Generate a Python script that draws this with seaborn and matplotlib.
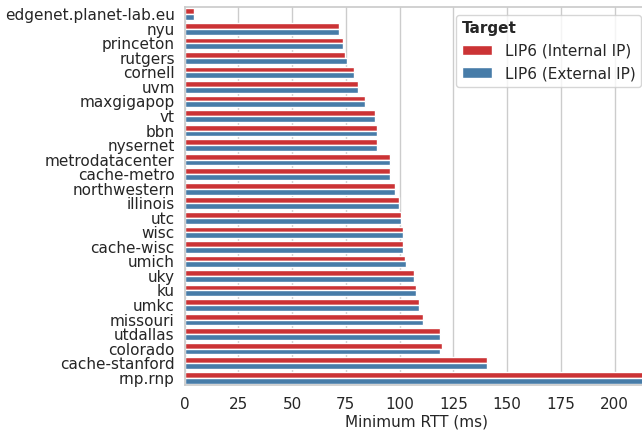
import matplotlib
matplotlib.use("Agg")
import matplotlib.pyplot as plt
import seaborn as sns
import pandas as pd

sites = ["edgenet.planet-lab.eu", "nyu", "princeton", "rutgers", "cornell", "uvm",
         "maxgigapop", "vt", "bbn", "nysernet", "metrodatacenter", "cache-metro",
         "northwestern", "illinois", "utc", "wisc", "cache-wisc", "umich", "uky",
         "ku", "umkc", "missouri", "utdallas", "colorado", "cache-stanford", "rnp.rnp"]
internal_rtt = [4.5, 71.6, 73.7, 74.6, 78.6, 80.7, 83.8, 88.7, 89.7, 89.7, 95.7, 95.7,
                97.8, 99.8, 100.7, 101.8, 101.8, 102.7, 106.8, 107.7, 108.9, 110.8,
                118.7, 119.8, 140.8, 218.0]
external_rtt = [4.5, 71.6, 73.7, 75.7, 78.6, 80.7, 83.8, 88.6, 89.7, 89.7, 95.7, 95.7,
                97.8, 99.8, 100.7, 101.8, 101.8, 102.9, 106.8, 107.7, 108.8, 110.7,
                118.7, 118.7, 140.8, 218.0]
targets = ["LIP6 (Internal IP)", "LIP6 (External IP)"]

df = pd.DataFrame({
    "Site": sites * 2,
    "Minimum RTT (ms)": internal_rtt + external_rtt,
    "Target": [targets[0]] * len(sites) + [targets[1]] * len(sites),
})

sns.set_theme(style="whitegrid", context="notebook")
fig = plt.figure(figsize=(6.42, 4.32), dpi=100)
ax = fig.add_axes([0.2875, 0.1088, 0.7235, 0.875])
sns.barplot(data=df, y="Site", x="Minimum RTT (ms)", hue="Target", order=sites,
            hue_order=targets, palette="Set1", orient="h", ax=ax)
ax.set_xlim(0, 216)
ax.set_ylabel("")
ax.set_xlabel("Minimum RTT (ms)", fontsize=11, labelpad=2)
ax.set_xticks([0, 25, 50, 75, 100, 125, 150, 175, 200])
ax.tick_params(axis="x", pad=2.5)
ax.tick_params(axis="y", pad=1)
leg = ax.legend(title="Target", loc="upper right", fontsize=11, title_fontsize=11,
                alignment="left")
leg.get_title().set_fontweight("bold")
fig.savefig("out.png", dpi=100)
